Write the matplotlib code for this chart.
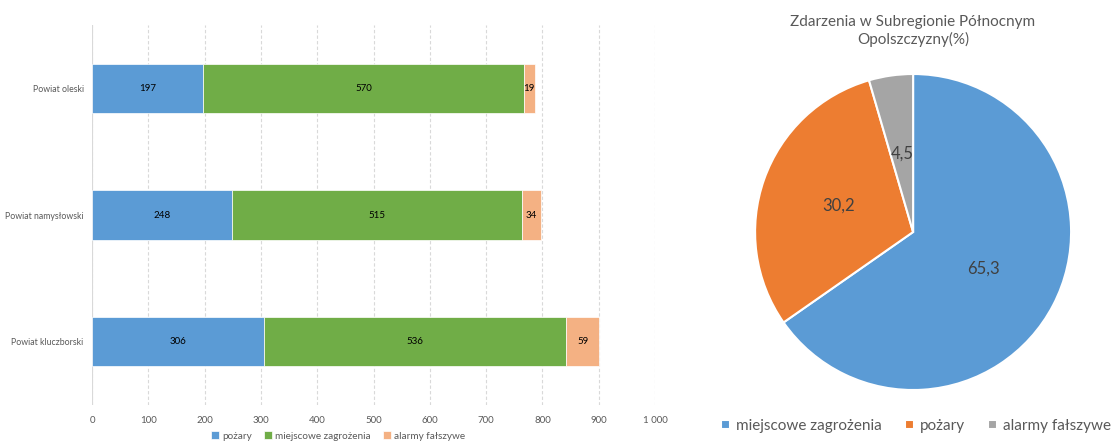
import matplotlib.pyplot as plt
import numpy as np

plt.rcParams["font.family"] = ["Lato", "DejaVu Sans"]

# Data
powiaty = ["Powiat kluczborski", "Powiat namysłowski", "Powiat oleski"]
pozary = [306, 248, 197]
miejscowe = [536, 515, 570]
alarmy = [59, 34, 19]

pie_labels = ["miejscowe zagrożenia", "pożary", "alarmy fałszywe"]
pie_values = [65.3, 30.2, 4.5]

c_blue = "#5B9BD5"
c_green = "#70AD47"
c_lorange = "#F4B183"
c_orange = "#ED7D31"
c_gray = "#A5A5A5"
txt_gray = "#595959"

fig = plt.figure(figsize=(11.17, 4.41), dpi=100)

# Stacked bar chart
ax = fig.add_axes([0.0824, 0.0816, 0.504, 0.861])
y = np.arange(len(powiaty))
h = 0.39
left = np.zeros(len(powiaty))
series = [
    ("pożary", pozary, c_blue),
    ("miejscowe zagrożenia", miejscowe, c_green),
    ("alarmy fałszywe", alarmy, c_lorange),
]
for name, vals, col in series:
    bars = ax.barh(y, vals, left=left, height=h, color=col, label=name,
                   edgecolor="white", linewidth=0.5, zorder=3)
    ax.bar_label(bars, labels=[str(v) for v in vals], label_type="center",
                 fontsize=7, color="black")
    left = left + np.array(vals)

ax.set_xlim(0, 1000)
ax.set_ylim(-0.5, 2.5)
ax.set_yticks(y)
ax.set_yticklabels(powiaty)
ax.set_xticks(np.arange(0, 1001, 100))
ax.set_xticklabels([f"{v:,}".replace(",", " ") for v in range(0, 1001, 100)])
ax.tick_params(axis="both", length=0, colors=txt_gray)
ax.tick_params(axis="y", labelsize=6.3, pad=6)
ax.tick_params(axis="x", labelsize=7, pad=8)
ax.grid(axis="x", color="#D9D9D9", linestyle=(0, (3, 2)), linewidth=0.8, zorder=0)
for s in ax.spines.values():
    s.set_visible(False)
ax.axvline(0, color="#D9D9D9", linewidth=0.8, zorder=1)
ax.legend(loc="center", bbox_to_anchor=(338 / 1117, 1 - 436 / 441),
          bbox_transform=fig.transFigure, ncol=3, frameon=False, fontsize=7.2,
          handlelength=0.8, handleheight=0.8, handletextpad=0.3,
          columnspacing=1.2, labelcolor=txt_gray)

# Pie chart
pax = fig.add_axes([0.676, 0.1156, 0.2829, 0.7166])
wedges, texts = pax.pie(
    pie_values,
    labels=[f"{v:.1f}".replace(".", ",") for v in pie_values],
    colors=[c_blue, c_orange, c_gray],
    startangle=90,
    counterclock=False,
    labeldistance=0.5,
    wedgeprops=dict(edgecolor="white", linewidth=1.5),
    textprops=dict(fontsize=12, color="#404040", ha="center", va="center"),
)
for t in texts:
    t.set_horizontalalignment("center")
pax.set_xlim(-1, 1)
pax.set_ylim(-1, 1)
pax.set_aspect("equal")

fig.text(913 / 1117, 1 - 31 / 441, "Zdarzenia w Subregionie Północnym\nOpolszczyzny(%)",
         ha="center", va="center", fontsize=11, color=txt_gray, linespacing=1.3)

fig.legend(wedges, pie_labels, loc="center", bbox_to_anchor=(916 / 1117, 1 - 426 / 441),
           ncol=3, frameon=False, fontsize=11, handlelength=0.6, handleheight=0.6,
           handletextpad=0.4, columnspacing=1.5, labelcolor=txt_gray)

fig.savefig("out.png", dpi=100)
